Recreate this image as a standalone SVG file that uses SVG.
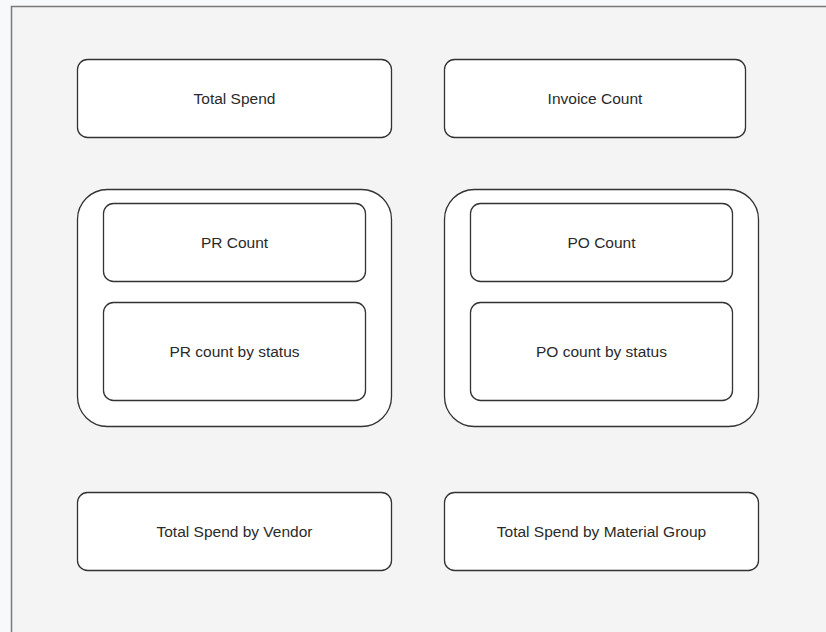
<svg xmlns="http://www.w3.org/2000/svg" width="826" height="632" viewBox="0 0 826 632">
  <style>
    .box { fill: #ffffff; stroke: #333333; stroke-width: 1.3; }
    .group { fill: #ffffff; stroke: #333333; stroke-width: 1.3; }
    .label { font-family: "Liberation Sans", Arial, sans-serif; font-size: 15.5px; fill: #2a2a2a; text-anchor: middle; dominant-baseline: central; }
  </style>
  <!-- page and canvas -->
  <rect x="0" y="0" width="826" height="632" fill="#f8f9fb"/>
  <rect x="11.5" y="6.5" width="820" height="630" fill="#f4f4f4" stroke="#7a7a7a" stroke-width="1.5"/>

  <g id="total-spend">
    <rect class="box" x="77.5" y="59.5" width="314" height="78" rx="10"/>
    <text class="label" x="234.5" y="98">Total Spend</text>
  </g>
  <g id="invoice-count">
    <rect class="box" x="444.5" y="59.5" width="301" height="78" rx="10"/>
    <text class="label" x="595" y="98">Invoice Count</text>
  </g>

  <g id="pr-group">
    <rect class="group" x="77.5" y="189.5" width="314" height="237" rx="30"/>
    <g id="pr-count">
      <rect class="box" x="103.5" y="203.5" width="262" height="78" rx="10"/>
      <text class="label" x="234.5" y="242">PR Count</text>
    </g>
    <g id="pr-count-by-status">
      <rect class="box" x="103.5" y="302.5" width="262" height="98" rx="10"/>
      <text class="label" x="234.5" y="351">PR count by status</text>
    </g>
  </g>

  <g id="po-group">
    <rect class="group" x="444.5" y="189.5" width="314" height="237" rx="30"/>
    <g id="po-count">
      <rect class="box" x="470.5" y="203.5" width="262" height="78" rx="10"/>
      <text class="label" x="601.5" y="242">PO Count</text>
    </g>
    <g id="po-count-by-status">
      <rect class="box" x="470.5" y="302.5" width="262" height="98" rx="10"/>
      <text class="label" x="601.5" y="351">PO count by status</text>
    </g>
  </g>

  <g id="spend-by-vendor">
    <rect class="box" x="77.5" y="492.5" width="314" height="78" rx="10"/>
    <text class="label" x="234.5" y="531">Total Spend by Vendor</text>
  </g>
  <g id="spend-by-material-group">
    <rect class="box" x="444.5" y="492.5" width="314" height="78" rx="10"/>
    <text class="label" x="601.5" y="531">Total Spend by Material Group</text>
  </g>

  <!-- no connectors in this layout -->
  <g id="connectors"/>
</svg>
